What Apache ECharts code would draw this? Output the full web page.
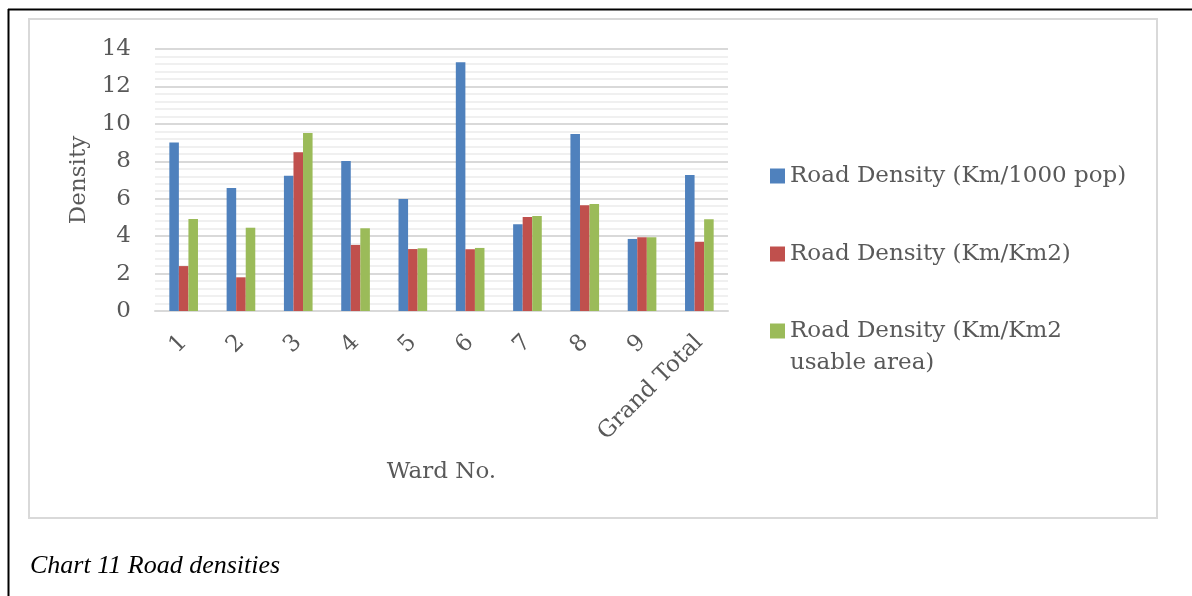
<!DOCTYPE html>
<html>
<head>
<meta charset="utf-8">
<script src="https://cdn.jsdelivr.net/npm/echarts@6/dist/echarts.min.js"></script>
<style>
  html, body { margin: 0; padding: 0; background: #fff; }
  #chart { width: 1192px; height: 596px; }
</style>
</head>
<body>
<div id="chart"></div>
<script>
// ward numbers + total
var wards = ['1', '2', '3', '4', '5', '6', '7', '8', '9', 'Grand Total'];
var seriesNames = ['Road Density (Km/1000 pop)', 'Road Density (Km/Km2)', 'Road Density (Km/Km2 usable area)'];
var perPop = [9.0, 6.57, 7.23, 8.02, 5.99, 13.29, 4.63, 9.46, 3.85, 7.27];
var perKm2 = [2.40, 1.80, 8.48, 3.53, 3.31, 3.30, 5.02, 5.65, 3.94, 3.70];
var perUsable = [4.92, 4.45, 9.51, 4.42, 3.35, 3.37, 5.08, 5.72, 3.94, 4.90];
var yTicks = [0, 2, 4, 6, 8, 10, 12, 14];

var colors = ['#4F81BD', '#C0504D', '#9BBB59'];
var txt = '#595959';
var fontFam = 'DejaVu Serif';
var fs = 23;

function initChart() {
    var myChart = echarts.init(document.getElementById('chart'));

    function legendFor(i, top) {
        return {
            data: [seriesNames[i]],
            left: 770,
            top: top,
            orient: 'vertical',
            icon: 'rect',
            itemWidth: 15,
            itemHeight: 15,
            itemGap: 0,
            padding: 0,
            formatter: function (name) {
                // blank first line keeps the icon level with the first text line
                return name === seriesNames[2] ? ' \nRoad Density (Km/Km2\nusable area)' : name;
            },
            textStyle: { color: txt, fontFamily: fontFam, fontSize: fs, lineHeight: 32 }
        };
    }

    var option = {
        backgroundColor: '#fff',
        animation: false,
        color: colors,
        grid: { left: 155, right: 464, top: 49, bottom: 285 },
        legend: [legendFor(0, 160), legendFor(1, 238), legendFor(2, 283)],
        xAxis: {
            type: 'category',
            data: wards,
            name: 'Ward No.',
            nameLocation: 'middle',
            nameGap: 150,
            nameTextStyle: { color: txt, fontFamily: fontFam, fontSize: fs },
            axisLine: { lineStyle: { color: '#d9d9d9', width: 2 } },
            axisTick: { show: false },
            axisLabel: { color: txt, fontFamily: fontFam, fontSize: fs, rotate: 45, margin: 28, interval: 0 }
        },
        yAxis: {
            type: 'value',
            min: yTicks[0],
            max: yTicks[yTicks.length - 1],
            interval: 2,
            name: 'Density',
            nameLocation: 'middle',
            nameGap: 64,
            nameTextStyle: { color: txt, fontFamily: fontFam, fontSize: fs },
            axisLine: { show: false },
            axisTick: { show: false },
            axisLabel: { color: txt, fontFamily: fontFam, fontSize: fs, margin: 24 },
            splitLine: { lineStyle: { color: '#d9d9d9', width: 2 } },
            minorTick: { show: false, splitNumber: 5 },
            minorSplitLine: { show: true, lineStyle: { color: '#f0f0f0', width: 2 } }
        },
        series: [
            { name: seriesNames[0], type: 'bar', data: perPop, barGap: '0%', barCategoryGap: '50%' },
            { name: seriesNames[1], type: 'bar', data: perKm2, barGap: '0%', barCategoryGap: '50%' },
            { name: seriesNames[2], type: 'bar', data: perUsable, barGap: '0%', barCategoryGap: '50%' }
        ],
        graphic: [
            { type: 'rect', silent: true, z: -1, shape: { x: 29, y: 19, width: 1128, height: 499 },
              style: { fill: 'none', stroke: '#d9d9d9', lineWidth: 2 } },
            { type: 'line', silent: true, shape: { x1: 8, y1: 9.5, x2: 1192, y2: 9.5 },
              style: { stroke: '#000', lineWidth: 2 } },
            { type: 'line', silent: true, shape: { x1: 8.5, y1: 9, x2: 8.5, y2: 596 },
              style: { stroke: '#000', lineWidth: 2 } },
            { type: 'text', silent: true, left: 30, top: 553,
              style: { text: 'Chart 11 Road densities', fill: '#000', font: 'italic 26px "Liberation Serif"' } }
        ]
    };
    myChart.setOption(option);
}
initChart();
</script>
</body>
</html>
